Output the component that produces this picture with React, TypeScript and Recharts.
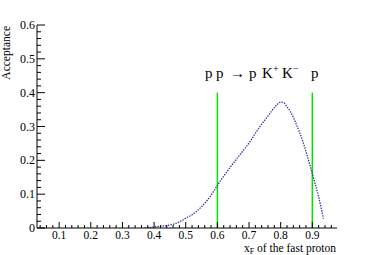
import { LineChart, Line, XAxis, YAxis, ReferenceLine, Customized } from 'recharts';

// x_F bin centres and the acceptance
const xF = [
  0.37, 0.38, 0.39, 0.4, 0.41, 0.42, 0.43, 0.44, 0.45, 0.46, 0.47, 0.48, 0.49,
  0.5, 0.51, 0.52, 0.53, 0.54, 0.55, 0.56, 0.57, 0.58, 0.59, 0.6, 0.61, 0.62,
  0.63, 0.64, 0.65, 0.66, 0.67, 0.68, 0.69, 0.7, 0.71, 0.72, 0.73, 0.74, 0.75,
  0.76, 0.77, 0.78, 0.79, 0.8, 0.81, 0.82, 0.83, 0.84, 0.85, 0.86, 0.87, 0.88,
  0.89, 0.9, 0.91, 0.92, 0.93, 0.935,
];
const acceptance = [
  0.0, 0.001, 0.002, 0.003, 0.004, 0.005, 0.006, 0.007, 0.009, 0.011, 0.014, 0.018, 0.023,
  0.029, 0.034, 0.039, 0.046, 0.054, 0.063, 0.073, 0.084, 0.097, 0.111, 0.126, 0.14, 0.153,
  0.166, 0.179, 0.191, 0.203, 0.215, 0.227, 0.239, 0.251, 0.265, 0.28, 0.294, 0.307, 0.319,
  0.331, 0.344, 0.356, 0.366, 0.372, 0.37, 0.358, 0.345, 0.327, 0.305, 0.282, 0.256, 0.226,
  0.194, 0.161, 0.128, 0.092, 0.05, 0.028,
];

// cut positions (green lines) and their height
const cuts = [0.6, 0.9];
const cutTop = 0.4;

const xMajor = [0.1, 0.2, 0.3, 0.4, 0.5, 0.6, 0.7, 0.8, 0.9];
const yMajor = [0, 0.1, 0.2, 0.3, 0.4, 0.5, 0.6];
const xDomain = [0.03, 0.978];
const yDomain = [0, 0.6];

function minorTicks(from: number, to: number, step: number) {
  const out: number[] = [];
  for (let v = from; v <= to + 1e-9; v += step) out.push(Math.round(v * 100) / 100);
  return out;
}
const xTicks = minorTicks(0.04, 0.96, 0.02);
const yTicks = minorTicks(0, 0.6, 0.02);

const FONT = '"Liberation Serif", "DejaVu Serif", serif';
const isMajor = (list: number[], v: number) => list.some((m) => Math.abs(m - v) < 1e-6);

function XTick(props: any) {
  const { x, y, payload } = props;
  const major = isMajor(xMajor, payload.value);
  return (
    <g>
      <line x1={x} x2={x} y1={y} y2={y - (major ? 6 : 3)} stroke="#000" strokeWidth={1} />
      {major && (
        <text x={x} y={y + 10.5} textAnchor="middle" fontSize={11.5} fontFamily={FONT} fill="#000">
          {String(payload.value)}
        </text>
      )}
    </g>
  );
}

function YTick(props: any) {
  const { x, y, payload } = props;
  const major = isMajor(yMajor, payload.value);
  return (
    <g>
      <line x1={x} x2={x + (major ? 8 : 4)} y1={y} y2={y} stroke="#000" strokeWidth={1} />
      {major && (
        <text x={x - 2} y={y + 4} textAnchor="end" fontSize={12} fontFamily={FONT} fill="#000">
          {String(payload.value)}
        </text>
      )}
    </g>
  );
}

function Titles() {
  return (
    <g fontFamily={FONT} fill="#000">
      <text x={10} y={26} transform="rotate(-90 10 26)" textAnchor="end" fontSize={11.5}>
        Acceptance
      </text>
      <text x={336} y={251.5} textAnchor="end" fontSize={11.5}>
        x<tspan dy={2} fontSize={8}>F</tspan>
        <tspan dy={-2}> of the fast proton</tspan>
      </text>
      <text y={78} fontSize={15}>
        <tspan x={205}>p</tspan>
        <tspan x={216}>p</tspan>
        <tspan x={230}>→</tspan>
        <tspan x={249}>p</tspan>
        <tspan x={262}>K</tspan>
        <tspan x={273} dy={-6} fontSize={10}>+</tspan>
        <tspan x={282} dy={6}>K</tspan>
        <tspan x={293} dy={-6} fontSize={10}>−</tspan>
        <tspan x={311} dy={6}>p</tspan>
      </text>
    </g>
  );
}

export default function App() {
  const data = xF.map((x, i) => ({ x, acc: acceptance[i] }));

  return (
    <div style={{ position: 'absolute', left: 0, top: 0, background: '#fff' }}>
      <LineChart width={374} height={255} data={data} margin={{ top: 25, right: 37, left: 0, bottom: 0 }}>
        <XAxis
          dataKey="x"
          type="number"
          domain={xDomain}
          ticks={xTicks}
          interval={0}
          allowDataOverflow
          height={27}
          tickSize={0}
          tickMargin={0}
          tickLine={false}
          tick={<XTick />}
          axisLine={{ stroke: '#000' }}
        />
        <XAxis
          xAxisId="top"
          orientation="top"
          type="number"
          domain={xDomain}
          height={0}
          tick={false}
          tickLine={false}
          axisLine={{ stroke: '#000' }}
        />
        <YAxis
          type="number"
          domain={yDomain}
          ticks={yTicks}
          interval={0}
          allowDataOverflow
          width={37}
          tickSize={0}
          tickMargin={0}
          tickLine={false}
          tick={<YTick />}
          axisLine={{ stroke: '#000' }}
        />
        <YAxis
          yAxisId="right"
          orientation="right"
          domain={yDomain}
          width={0}
          tick={false}
          tickLine={false}
          axisLine={{ stroke: '#000' }}
        />
        {cuts.map((c) => (
          <ReferenceLine
            key={c}
            segment={[{ x: c, y: 0 }, { x: c, y: cutTop }]}
            stroke="#00e600"
            strokeWidth={1.5}
          />
        ))}
        <Line
          dataKey="acc"
          type="monotone"
          stroke="#2e2ea6"
          strokeWidth={1.3}
          strokeDasharray="1.4 1.2"
          dot={false}
          isAnimationActive={false}
        />
        <Customized component={Titles} />
      </LineChart>
    </div>
  );
}
